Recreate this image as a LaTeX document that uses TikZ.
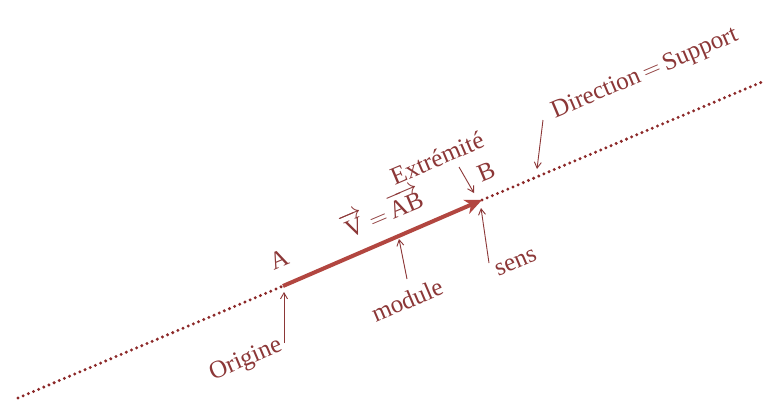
\documentclass[tikz,border=0pt]{standalone}
\usepackage{fontspec}
\setmainfont{Liberation Serif}
\usetikzlibrary{arrows.meta}
\definecolor{txt}{RGB}{140,55,55}
\definecolor{vec}{RGB}{178,70,64}
\definecolor{dots}{RGB}{140,40,40}
\begin{document}
\begin{tikzpicture}[x=1pt,y=-1pt,
  lbl/.style={text=txt,font=\fontsize{25}{28}\selectfont,rotate=23,inner sep=0pt},
  pointer/.style={draw=txt,line width=0.9pt,-{Straight Barb[length=6pt,width=7pt]}},
  support/.style={draw=dots,line width=3.3pt,line cap=round,dash pattern=on 0pt off 5.6pt}]
\useasboundingbox (0,0) rectangle (769,410);
\fill[white] (0,0) rectangle (769,410);
\coordinate (L) at (18,398);
\coordinate (R) at (762,82);
\coordinate (A) at (283,286);
\coordinate (B) at (482,200);
\draw[support] (L) -- (A);
\draw[support] (B) -- (R);
\draw[draw=vec,line width=4pt,-{Stealth[length=17pt,width=15pt,inset=5pt]}] (A) -- (B);
% labels
\node[lbl] (lA) at (279,259) {A};
\node[lbl] (lB) at (486,172) {B};
\node[lbl] (lV) at (381,212) {$\overrightarrow{\textrm{V}}\,{=}\,\overrightarrow{\textrm{AB}}$};
\node[lbl] (lE) at (437,158) {Extrémité};
\node[lbl] (lM) at (407,300) {module};
\node[lbl] (lS) at (516,263) {sens};
\node[lbl] (lO) at (246,360) {Origine};
\node[lbl] (lD) at (645,74) {Direction$\,=\,$Support};
% pointers
\coordinate (eS) at (459,167);
\coordinate (eE) at (474,193);
\coordinate (mS) at (407,279);
\coordinate (mE) at (399,239);
\coordinate (sS) at (489,263);
\coordinate (sE) at (481,208);
\coordinate (oS) at (284,343);
\coordinate (oE) at (284,292);
\coordinate (dS) at (543,120);
\coordinate (dE) at (537,169);
\draw[pointer] (eS) -- (eE);
\draw[pointer] (mS) -- (mE);
\draw[pointer] (sS) -- (sE);
\draw[pointer] (oS) -- (oE);
\draw[pointer] (dS) -- (dE);
\end{tikzpicture}
\end{document}
